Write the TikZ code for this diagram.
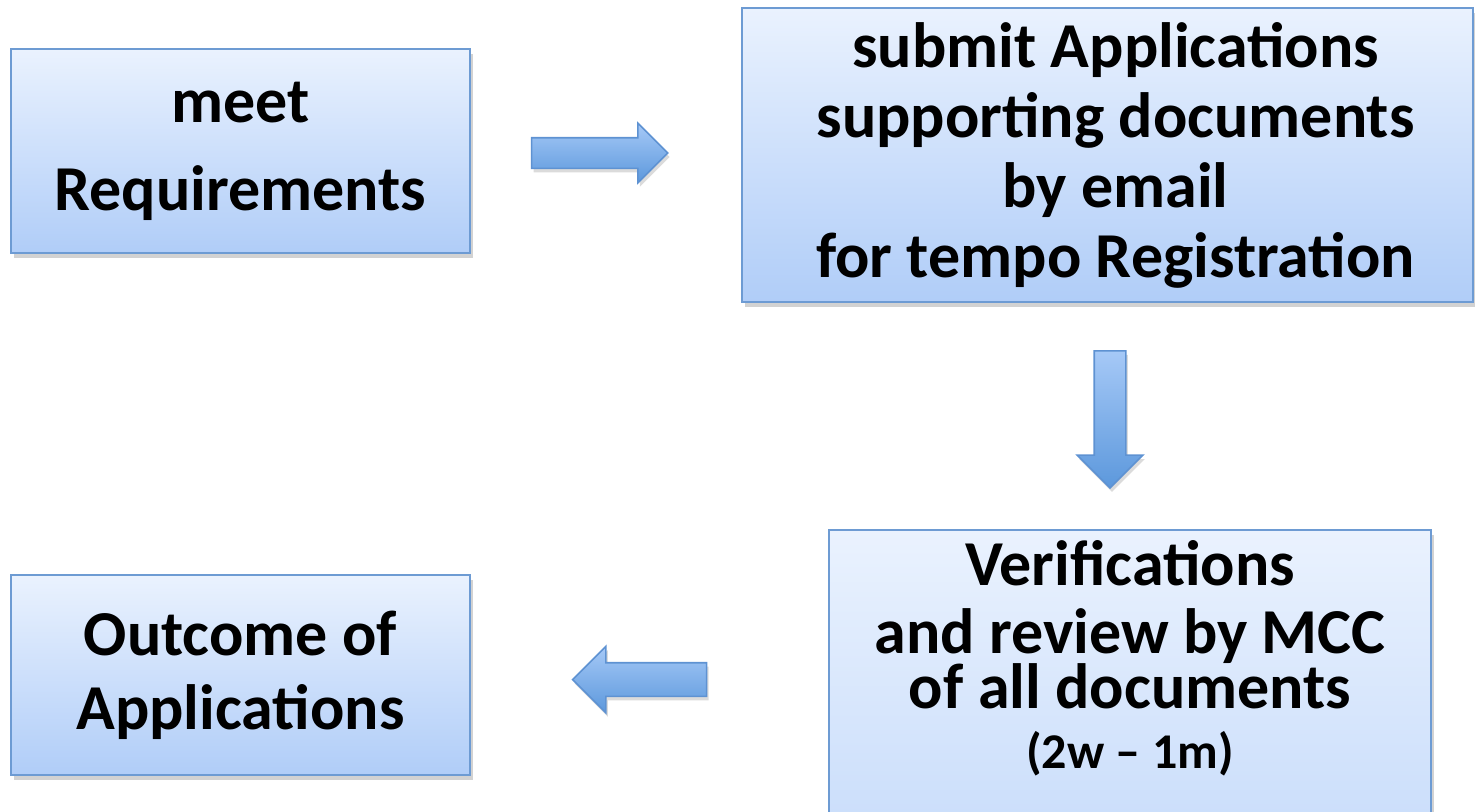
\documentclass[tikz,border=0pt]{standalone}
\usepackage{fontspec}
\setmainfont{Carlito}
\usetikzlibrary{shapes.arrows,shadows,positioning}

\definecolor{BoxTop}{HTML}{EAF2FE}
\definecolor{BoxBot}{HTML}{B0CDF8}
\definecolor{BoxLine}{HTML}{6D9BD3}
\definecolor{ArrTop}{HTML}{A6C9F7}
\definecolor{ArrBot}{HTML}{5C98DC}
\definecolor{ArrLine}{HTML}{5E92D2}

\begin{document}
\begin{tikzpicture}[x=0.5pt,y=-0.5pt]
		\tikzstyle{Step}	= [rectangle, draw=BoxLine, line width=1pt, top color=BoxTop, bottom color=BoxBot,
		                   align=center, inner sep=0pt, outer sep=0pt,
		                   drop shadow={shadow xshift=1.5pt, shadow yshift=-2.5pt, opacity=0.25, fill=black!70}]
		\tikzstyle{Flow}	= [single arrow, draw=ArrLine, line width=0.8pt, top color=ArrTop, bottom color=ArrBot,
		                   outer sep=0pt,
		                   drop shadow={shadow xshift=1pt, shadow yshift=-2pt, opacity=0.2, fill=black!70}]

		\clip (0,0) rectangle (1475,811);

		\node (req) at (240.5, 151) [Step, minimum width=229.5pt, minimum height=102pt,
		      font=\bfseries\fontsize{32pt}{44pt}\selectfont] {meet\\Requirements};
		\node (sub) at (1107.5, 155) [Step, minimum width=365.5pt, minimum height=147pt,
		      font=\bfseries\fontsize{32pt}{35pt}\selectfont]
		      {\hspace*{8pt}submit Applications\\\hspace*{8pt}supporting documents\\\hspace*{8pt}by email\\\hspace*{8pt}for tempo Registration};
		\node (ver) at (1130, 530) [Step, anchor=north, minimum width=301pt, inner ysep=5pt, text depth=150pt,
		      font=\bfseries\fontsize{32pt}{27.5pt}\selectfont]
		      {Verifications\\[6.5pt]and review by MCC\\of all documents\\[2.5pt]{\fontsize{25pt}{28pt}\selectfont (2w -- 1m)}};
		\node (out) at (240.5, 675) [Step, minimum width=229.5pt, minimum height=100pt,
		      font=\bfseries\fontsize{32pt}{37pt}\selectfont] {Outcome of\\Applications};

		\node (a1) at (592, 153) [Flow, inner sep=7.25pt, minimum height=68pt, single arrow head extend=7.25pt] {};
		\node (a2) at (1110, 411.5) [Flow, shape border rotate=270, inner sep=7.5pt, minimum height=68.5pt,
		      single arrow head extend=8.5pt] {};
		\node (a3) at (648, 679.5) [Flow, shape border rotate=180, inner sep=8pt, minimum height=67pt,
		      single arrow head extend=8.25pt] {};
	\end{tikzpicture}
\end{document}
